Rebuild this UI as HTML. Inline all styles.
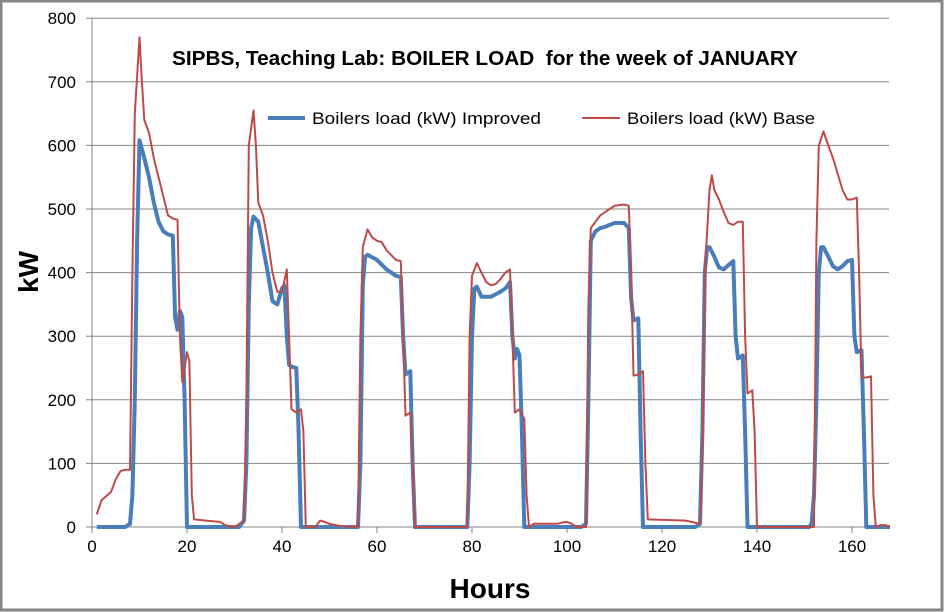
<!DOCTYPE html>
<html><head><style>
body{margin:0;background:#fff}
svg{display:block;font-family:"Liberation Sans",sans-serif}
</style></head><body>
<svg id="s" width="944" height="612" xmlns="http://www.w3.org/2000/svg">
<rect x="1" y="1" width="941" height="609" fill="#fff" stroke="#868686" stroke-width="3"/>
<g id="grid" stroke="#868686" stroke-width="1"></g>
<g id="lab" font-size="17" fill="#000"></g>
<text x="172" y="65" font-size="20" font-weight="bold" fill="#000" textLength="626" lengthAdjust="spacingAndGlyphs">SIPBS, Teaching Lab: BOILER LOAD&#160; for the week of JANUARY</text>
<line x1="268" y1="118" x2="305" y2="118" stroke="#4a7ebb" stroke-width="4"/>
<text x="312" y="124" font-size="17" textLength="229" lengthAdjust="spacingAndGlyphs">Boilers load (kW) Improved</text>
<line x1="582" y1="118" x2="620" y2="118" stroke="#be4b48" stroke-width="2"/>
<text x="627" y="124" font-size="17" textLength="188" lengthAdjust="spacingAndGlyphs">Boilers load (kW) Base</text>
<text transform="translate(38,272) rotate(-90)" text-anchor="middle" font-size="28" font-weight="bold">kW</text>
<text x="490" y="598" text-anchor="middle" font-size="28" font-weight="bold">Hours</text>
<polyline id="b" fill="none" stroke="#4a7ebb" stroke-width="4" stroke-linejoin="round"/>
<polyline id="r" fill="none" stroke="#be4b48" stroke-width="2" stroke-linejoin="round"/>
</svg>
<script>
var X=function(h){return 92+4.75*h},Y=function(v){return 527-v*0.636};
var g=document.getElementById('grid'),l=document.getElementById('lab'),ns="http://www.w3.org/2000/svg";
function el(p,t,a,txt){var e=document.createElementNS(ns,t);for(var k in a)e.setAttribute(k,a[k]);if(txt!==undefined)e.textContent=txt;p.appendChild(e);}
for(var v=0;v<=800;v+=100){el(g,'line',{x1:86,x2:889,y1:Y(v),y2:Y(v)});el(l,'text',{x:76,y:Y(v)+6,'text-anchor':'end'},v);}
el(g,'line',{x1:92,x2:92,y1:Y(800),y2:533});
for(var h=0;h<=160;h+=20){el(g,'line',{x1:X(h),x2:X(h),y1:527,y2:533});el(l,'text',{x:X(h),y:552,'text-anchor':'middle'},h);}
var R=[[1,20],[2,42],[4,55],[5,75],[6,88],[7,90],[8,90],[8.5,400],[9,650],[10,770],[10.5,700],[11,640],[12,620],[13,580],[15,520],[16,490],[17,485],[18,483],[18.5,300],[19,228],[19.5,250],[20,275],[20.5,260],[21,50],[21.5,12],[24,10],[27,8],[28,3],[30,0],[31,5],[32,10],[32.5,200],[33,600],[34,655],[34.5,600],[35,510],[36,490],[37,450],[38,400],[39,370],[40,370],[41,405],[41.5,300],[42,185],[43,180],[44,185],[44.5,150],[45,0],[47,0],[48,10],[49,8],[50,5],[52,2],[55,0],[56,0],[56.5,300],[57,440],[58,468],[59,455],[60,450],[61,448],[62,435],[64,420],[65,418],[65.5,300],[66,175],[67,180],[67.5,100],[68,0],[79,0],[79.5,300],[80,395],[81,415],[82,400],[83,385],[84,380],[85,382],[86,390],[87,400],[88,405],[88.5,300],[89,180],[90,185],[91,170],[91.5,50],[92,0],[93,5],[94,5],[98,5],[99,7],[100,8],[101,5],[102,0],[104,0],[104.5,350],[105,470],[106,480],[107,490],[108,495],[109,500],[110,505],[112,507],[113,505],[113.5,400],[114,238],[115,240],[116,245],[116.5,100],[117,12],[125,10],[128,5],[128.5,100],[129,400],[130,530],[130.5,553],[131,530],[132,515],[133,495],[134,478],[135,475],[136,480],[137,480],[137.5,300],[138,210],[139,215],[139.5,150],[140,0],[152,0],[152.5,450],[153,600],[154,622],[155,600],[156,580],[157,555],[158,530],[159,515],[160,515],[161,518],[161.5,400],[162,235],[163,235],[164,237],[164.5,50],[165,0],[166,3],[167,3],[168,0]];
var B=[[1,0],[7,0],[8,5],[8.5,50],[9,200],[9.5,450],[10,608],[11,580],[12,550],[13,510],[14,480],[15,465],[16,460],[17,458],[17.5,330],[18,310],[18.5,340],[19,330],[19.5,200],[20,0],[31,0],[32,10],[32.5,100],[33,350],[33.5,470],[34,488],[35,480],[36,440],[37,400],[38,355],[39,350],[40,375],[40.5,380],[41,300],[41.5,255],[42,252],[43,250],[43.5,150],[44,0],[56,0],[56.5,100],[57,380],[57.5,425],[58,428],[60,420],[62,405],[64,395],[65,393],[65.5,300],[66,240],[67,245],[67.5,100],[68,0],[79,0],[79.5,100],[80,300],[80.5,375],[81,378],[82,362],[84,362],[86,370],[87,375],[88,385],[88.5,300],[89,265],[89.5,280],[90,270],[90.5,150],[91,0],[103,0],[104,5],[104.5,200],[105,450],[106,465],[107,470],[108,472],[110,478],[112,478],[113,470],[113.5,360],[114,325],[115,328],[115.5,150],[116,0],[127,0],[128,5],[128.5,150],[129,400],[129.5,440],[130,440],[131,425],[132,408],[133,405],[134,412],[135,418],[135.5,300],[136,265],[137,270],[137.5,150],[138,0],[151,0],[151.5,5],[152,50],[152.5,200],[153,400],[153.5,440],[154,440],[155,425],[156,410],[157,405],[158,410],[159,418],[160,420],[160.5,300],[161,275],[162,278],[162.5,150],[163,0],[168,0]];
function pts(a){return a.map(function(p){return X(p[0]).toFixed(1)+','+Y(p[1]).toFixed(1)}).join(' ')}
document.getElementById('r').setAttribute('points',pts(R));
document.getElementById('b').setAttribute('points',pts(B));
</script>
</body></html>
